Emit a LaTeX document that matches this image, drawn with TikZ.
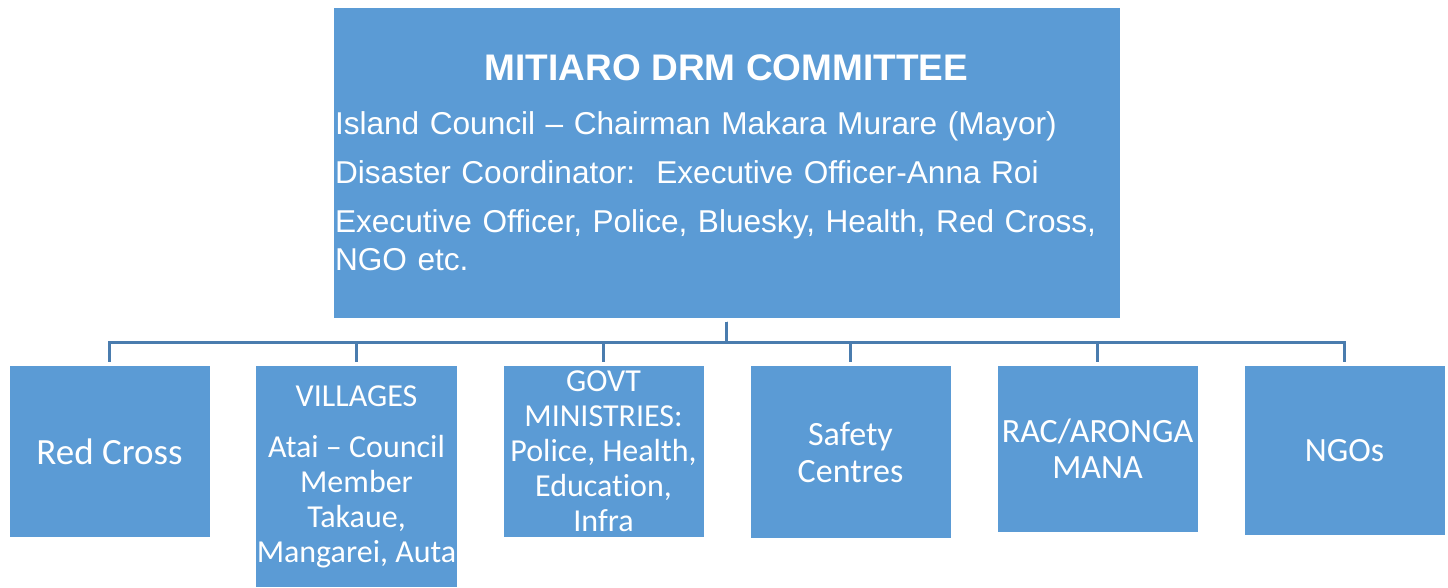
\documentclass[tikz,border=0pt]{standalone}
\usepackage{fontspec}
\usepackage{tikz}
\newfontfamily\headfont{Liberation Sans}
\newfontfamily\boxfont[Ligatures=NoCommon]{Carlito}
\definecolor{boxblue}{HTML}{5B9BD5}
\definecolor{linkblue}{HTML}{4A7CAE}
\tikzset{
  unit/.style={fill=boxblue, draw=white, line width=1pt, text=white,
    minimum width=201pt, inner sep=1pt, align=center, anchor=north},
  conn/.style={draw=linkblue, line width=2.6pt, shorten <=3pt, shorten >=3pt},
}
\begin{document}
\begin{tikzpicture}[x=1pt, y=-1pt]
  \useasboundingbox (0,0) rectangle (1448,587);
  % committee box
  \node[fill=boxblue, draw=white, line width=1pt, text=white,
    minimum width=787pt, minimum height=311pt, inner xsep=2pt,
    text width=783pt, align=left,
    font=\headfont\fontsize{31.6}{38}\selectfont] (top) at (726.5,162.5)
    {\makebox[783pt]{\bfseries\fontsize{37}{38}\selectfont MITIARO DRM COMMITTEE}\\[16pt]
     Island Council – Chairman Makara Murare (Mayor)\\[11pt]
     Disaster Coordinator:\ \ Executive Officer-Anna Roi\\[11pt]
     Executive Officer, Police, Bluesky, Health, Red Cross,\\
     NGO etc.};
  % member boxes
  \node[unit, minimum height=172pt, font=\boxfont\fontsize{37}{37}\selectfont]
    (redcross) at (109.5,365) {Red Cross};
  \node[unit, minimum height=222pt, font=\boxfont\fontsize{32}{35}\selectfont]
    (villages) at (356.5,365) {VILLAGES\\[16pt] Atai – Council\\ Member\\ Takaue,\\ Mangarei, Auta};
  \node[unit, minimum height=172pt, font=\boxfont\fontsize{32}{35}\selectfont]
    (govt) at (603.5,365) {GOVT\\ MINISTRIES:\\ Police, Health,\\ Education,\\ Infra};
  \node[unit, minimum height=173pt, font=\boxfont\fontsize{34}{37}\selectfont]
    (safety) at (850.5,365) {Safety\\ Centres};
  \node[unit, minimum height=167pt, font=\boxfont\fontsize{34}{36}\selectfont]
    (aronga) at (1097.5,365) {RAC/ARONGA\\ MANA};
  \node[unit, minimum height=170pt, font=\boxfont\fontsize{34}{36}\selectfont]
    (ngos) at (1344.5,365) {NGOs};
  % links
  \foreach \m in {redcross,villages,govt,safety,aronga,ngos}
    \draw[conn] (top.south) -- ++(0,24) -| (\m.north);
\end{tikzpicture}
\end{document}
